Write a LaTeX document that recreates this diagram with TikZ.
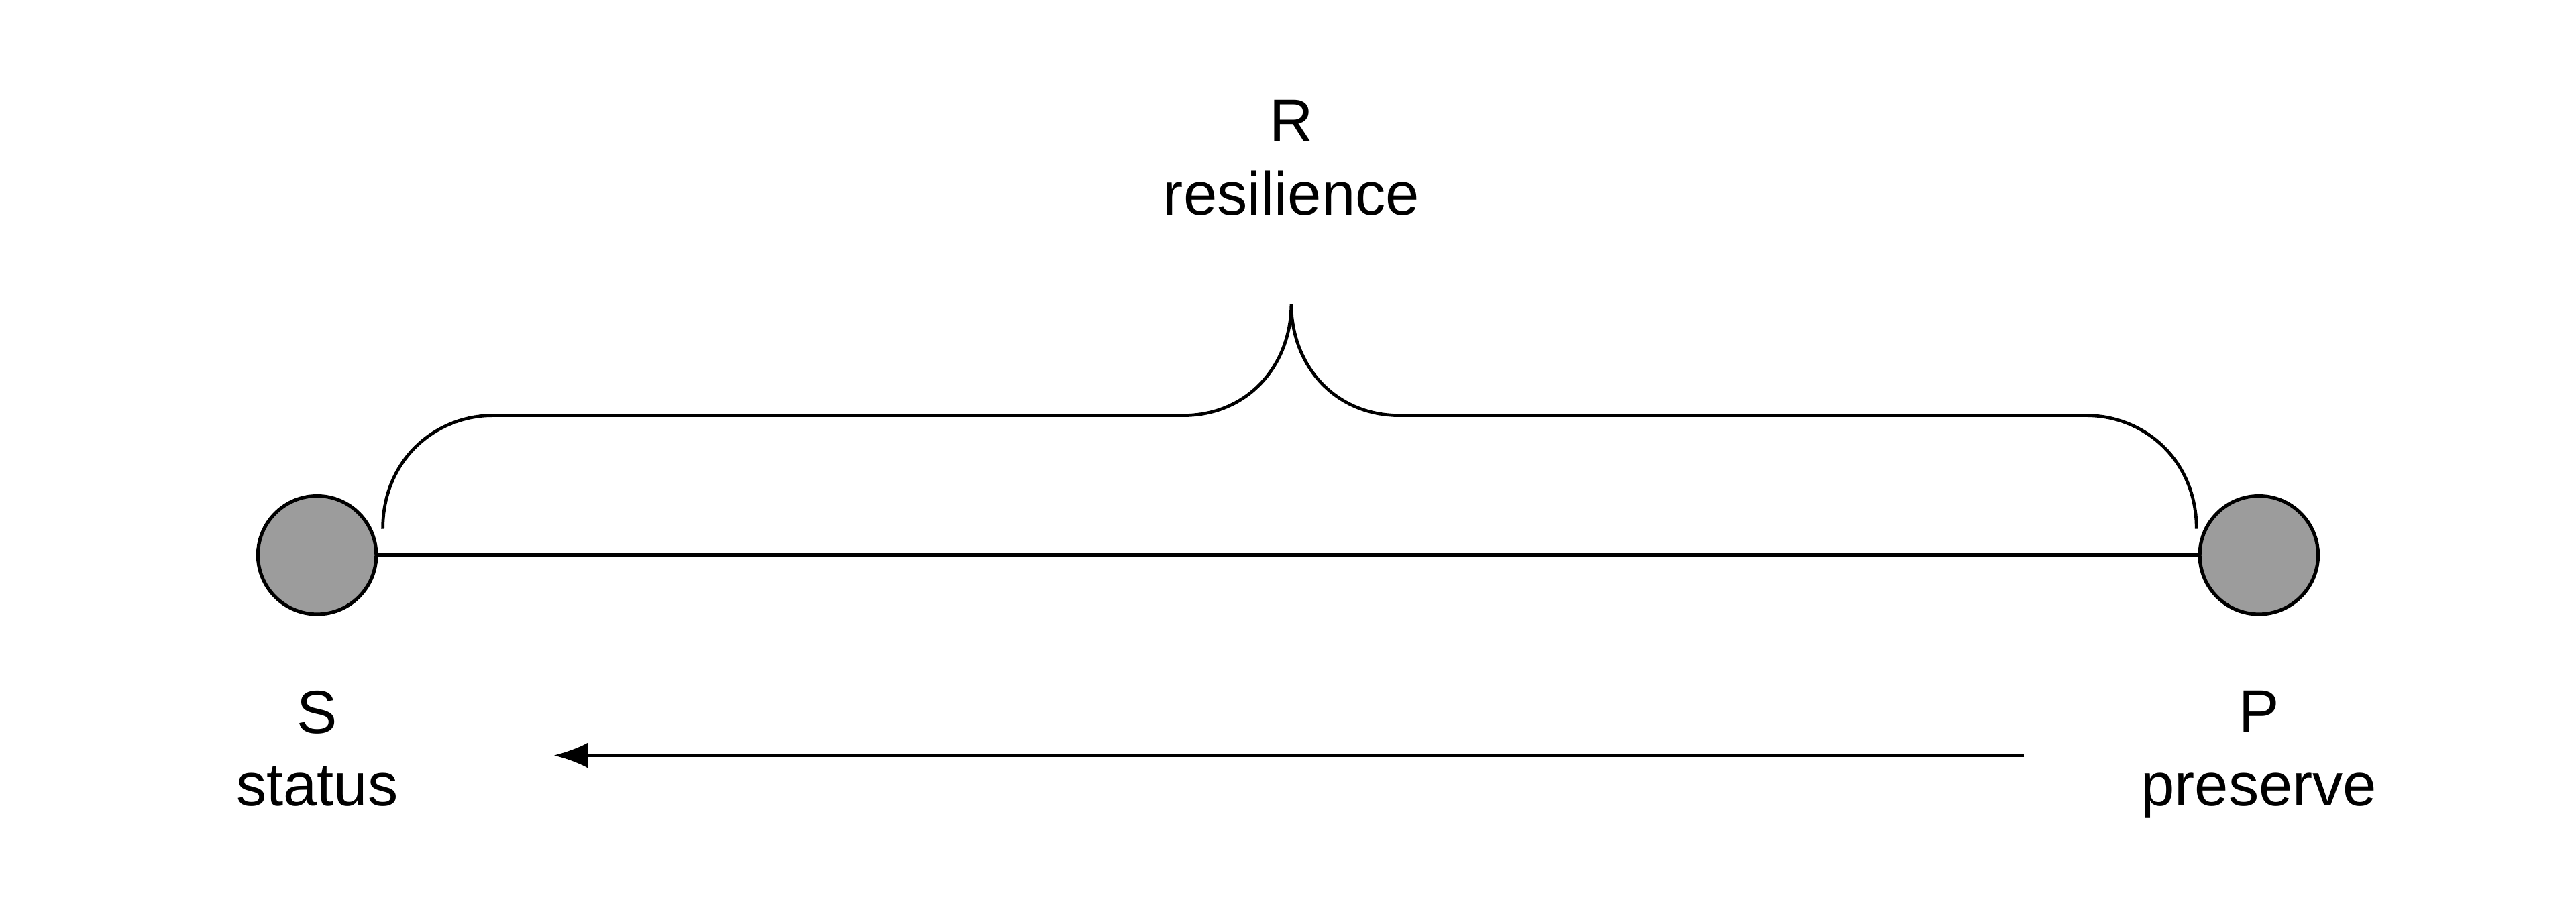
\documentclass[tikz,border=0pt]{standalone}
\usepackage{fontspec}
\setmainfont{Liberation Sans}
\usetikzlibrary{arrows.meta}
\begin{document}
\begin{tikzpicture}[x=0.01cm,y=-0.01cm,
  dot/.style={circle,draw=black,line width=0.6pt,fill=gray!78,minimum size=0.72cm,inner sep=0pt},
  lbl/.style={align=center,font=\fontsize{10.5}{12.6}\selectfont,inner sep=0pt},
  ln/.style={line width=0.55pt}]
\useasboundingbox (0,0) rectangle (1568,560);
\node[dot] (S) at (193,338) {};
\node[dot] (P) at (1375,338) {};
\draw[ln] (S) -- (P);
\node[lbl] (R) at (786,96) {R\\resilience};
\node[lbl,anchor=north] (Sl) at (193,420) {S\\status};
\node[lbl,anchor=north] (Pl) at (1375,420) {P\\preserve};
\coordinate (a1) at (1232,460);
\coordinate (a2) at (337,460);
\draw[ln,-{Latex[length=6pt,width=4.5pt]}] (a1) -- (a2);
\coordinate (b0) at (233,322);
\coordinate (b1) at (1337,322);
\draw[ln] (b0) .. controls (233,280) and (265,253) .. (300,253) -- (720,253)
  .. controls (760,253) and (786,222) .. (786,185)
  .. controls (786,222) and (812,253) .. (852,253) -- (1270,253)
  .. controls (1305,253) and (1337,280) .. (b1);
\end{tikzpicture}
\end{document}
